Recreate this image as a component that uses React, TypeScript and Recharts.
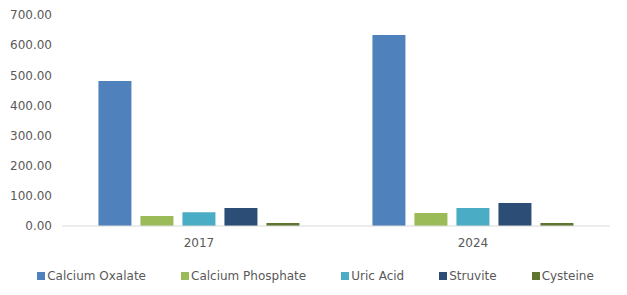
import React from "react";
import { BarChart, Bar, XAxis, YAxis, Legend } from "recharts";

const categories = ["2017", "2024"];
const seriesNames = ["Calcium Oxalate", "Calcium Phosphate", "Uric Acid", "Struvite", "Cysteine"];
const calciumOxalate = [481, 634];
const calciumPhosphate = [33, 43];
const uricAcid = [46, 60];
const struvite = [60, 76];
const cysteine = [10, 10];
const yTicks = [0, 100, 200, 300, 400, 500, 600, 700];
const colors = ["#4F81BD", "#9BBB59", "#4BACC6", "#2C4D75", "#5F7530"];

const seriesValues = [calciumOxalate, calciumPhosphate, uricAcid, struvite, cysteine];

const data = categories.map((c, i) => {
  const row: Record<string, string | number> = { name: c };
  seriesNames.forEach((s, j) => {
    row[s] = seriesValues[j][i];
  });
  return row;
});

const FONT = "'DejaVu Sans', Verdana, sans-serif";
const TEXT = "#595959";

const LegendContent = (props: any) => {
  const payload = [...(props.payload || [])].sort(
    (a: any, b: any) => seriesNames.indexOf(a.value) - seriesNames.indexOf(b.value)
  );
  return (
    <div
      style={{
        display: "flex",
        justifyContent: "center",
        alignItems: "center",
        height: 38,
        gap: 35,
        fontFamily: FONT,
        fontSize: 12,
        color: TEXT,
        paddingLeft: 4,
      }}
    >
      {payload.map((p: any) => (
        <div key={p.value} style={{ display: "flex", alignItems: "center" }}>
          <span
            style={{
              display: "inline-block",
              width: 8,
              height: 8,
              background: p.color,
              marginRight: 2,
            }}
          />
          <span>{p.value}</span>
        </div>
      ))}
    </div>
  );
};

export default function App() {
  return (
    <div style={{ position: "absolute", left: 0, top: 0, width: 627, height: 295, background: "#fff" }}>
      <BarChart
        width={627}
        height={295}
        data={data}
        margin={{ top: 15, right: 17, left: 0, bottom: 0 }}
        barCategoryGap="13.3%"
        barGap={9}
      >
        <XAxis
          dataKey="name"
          axisLine={{ stroke: "#D9D9D9", strokeWidth: 1 }}
          tickLine={false}
          tickSize={0}
          tickMargin={12}
          height={31}
          tick={{ fill: TEXT, fontSize: 12, fontFamily: FONT }}
        />
        <YAxis
          width={62}
          domain={[0, 700]}
          ticks={yTicks}
          axisLine={false}
          tickLine={false}
          tickSize={0}
          tickMargin={10}
          interval={0}
          tickFormatter={(v: number) => v.toFixed(2)}
          tick={{ fill: TEXT, fontSize: 12, fontFamily: FONT }}
        />
        <Legend
          verticalAlign="bottom"
          content={<LegendContent />}
          wrapperStyle={{ left: 0, width: 627 }}
        />
        {seriesNames.map((s, i) => (
          <Bar key={s} dataKey={s} fill={colors[i]} isAnimationActive={false} />
        ))}
      </BarChart>
    </div>
  );
}
